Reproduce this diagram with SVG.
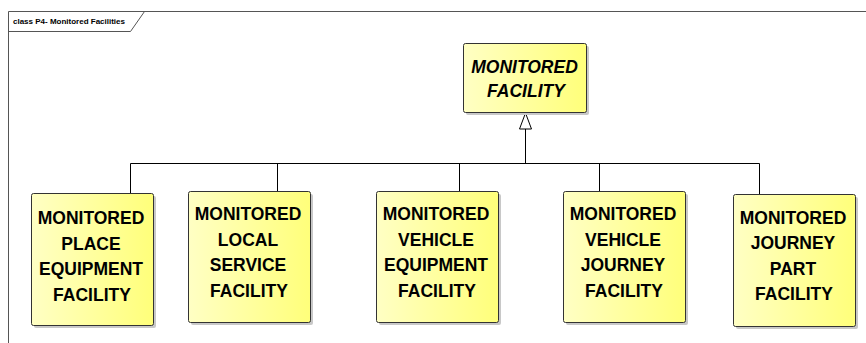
<svg xmlns="http://www.w3.org/2000/svg" width="866" height="343" viewBox="0 0 866 343">
<defs>
<linearGradient id="yg" x1="0" y1="0" x2="1" y2="0">
<stop offset="0" stop-color="#FFFFC4"/>
<stop offset="1" stop-color="#FFFF7A"/>
</linearGradient>
</defs>
<style>
.box{fill:url(#yg);stroke:#333;stroke-width:1}
.sh{fill:#c8c8c8}
.t{font-family:"Liberation Sans",Arial,sans-serif;font-weight:bold;font-size:17.5px;fill:#000;text-anchor:middle}
.ti{font-style:italic}
.c{fill:none;stroke:#000;stroke-width:1}
.fr{fill:none;stroke:#555;stroke-width:1}
.ft{font-family:"Liberation Sans",Arial,sans-serif;font-size:8px;fill:#000}
</style>
<rect width="866" height="343" fill="#fff"/>
<g id="frame">
<path class="fr" d="M8.5,343 V11.5 H866"/>
<path class="fr" d="M8.5,31.5 H130.5 L144.5,11.5"/>
<text class="ft" x="13" y="24" font-weight="bold" textLength="112" lengthAdjust="spacingAndGlyphs">class P4- Monitored Facilities</text>
</g>
<g id="connectors">
<path class="c" d="M525.5,129 V163.5"/>
<path class="c" d="M130.5,193 V163.5 H759.5 V194"/>
<path class="c" d="M277.5,163.5 V191"/>
<path class="c" d="M459.5,163.5 V191"/>
<path class="c" d="M599.5,163.5 V191"/>
<path d="M525.5,113 L519.5,129 H531.5 Z" fill="#fff" stroke="#000" stroke-width="1"/>
</g>
<g id="monitored-facility">
<rect class="sh" x="466" y="46" width="123" height="69" rx="2"/>
<rect class="box" x="463.5" y="43.5" width="123" height="69" rx="2"/>
<text class="t ti" x="524.5" y="72.5">MONITORED</text>
<text class="t ti" x="526" y="96.5">FACILITY</text>
</g>
<g id="monitored-place-equipment-facility">
<rect class="sh" x="34" y="196" width="122" height="132" rx="2"/>
<rect class="box" x="31.5" y="193.5" width="122" height="132" rx="2"/>
<text class="t" x="91" y="224">MONITORED</text>
<text class="t" x="91" y="249.5">PLACE</text>
<text class="t" x="91" y="275">EQUIPMENT</text>
<text class="t" x="92" y="300.5">FACILITY</text>
</g>
<g id="monitored-local-service-facility">
<rect class="sh" x="191" y="194" width="122" height="131" rx="2"/>
<rect class="box" x="188.5" y="191.5" width="122" height="131" rx="2"/>
<text class="t" x="248" y="220">MONITORED</text>
<text class="t" x="248" y="245.5">LOCAL</text>
<text class="t" x="248" y="271">SERVICE</text>
<text class="t" x="249" y="296.5">FACILITY</text>
</g>
<g id="monitored-vehicle-equipment-facility">
<rect class="sh" x="379" y="194" width="122" height="131" rx="2"/>
<rect class="box" x="376.5" y="191.5" width="122" height="131" rx="2"/>
<text class="t" x="436" y="220">MONITORED</text>
<text class="t" x="436" y="245.5">VEHICLE</text>
<text class="t" x="436" y="271">EQUIPMENT</text>
<text class="t" x="437" y="296.5">FACILITY</text>
</g>
<g id="monitored-vehicle-journey-facility">
<rect class="sh" x="566" y="194" width="122" height="131" rx="2"/>
<rect class="box" x="563.5" y="191.5" width="122" height="131" rx="2"/>
<text class="t" x="623" y="220">MONITORED</text>
<text class="t" x="623" y="245.5">VEHICLE</text>
<text class="t" x="623" y="271">JOURNEY</text>
<text class="t" x="624" y="296.5">FACILITY</text>
</g>
<g id="monitored-journey-part-facility">
<rect class="sh" x="736" y="197" width="122" height="132" rx="2"/>
<rect class="box" x="733.5" y="194.5" width="122" height="132" rx="2"/>
<text class="t" x="793" y="223.5">MONITORED</text>
<text class="t" x="793" y="249">JOURNEY</text>
<text class="t" x="793" y="274.5">PART</text>
<text class="t" x="794" y="300">FACILITY</text>
</g>
</svg>
